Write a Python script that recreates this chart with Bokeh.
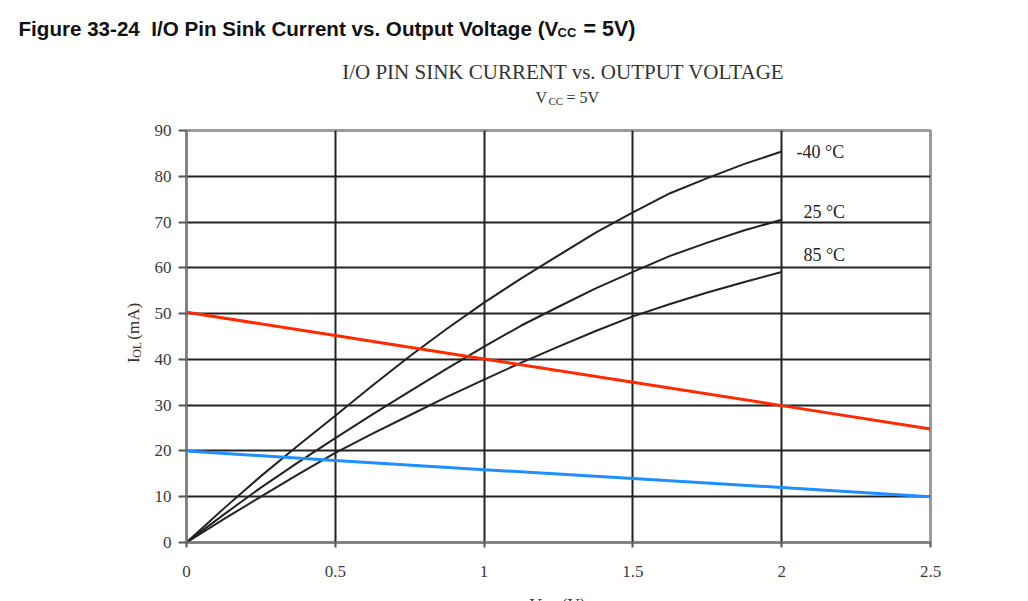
import math
from bokeh.plotting import figure
from bokeh.layouts import column, row
from bokeh.models import Range1d, FixedTicker, Label
from bokeh.embed import file_html
from bokeh.resources import INLINE

# ---------------- data ----------------
vol = [0.0, 0.125, 0.25, 0.375, 0.5, 0.625, 0.75, 0.875, 1.0,
       1.125, 1.25, 1.375, 1.5, 1.625, 1.75, 1.875, 2.0]
i_m40 = [0.0, 7.4, 14.5, 21.2, 27.7, 34.3, 40.7, 46.7, 52.4,
         57.7, 62.7, 67.7, 72.1, 76.3, 79.6, 82.7, 85.4]
i_25 = [0.0, 6.1, 12.0, 17.5, 22.8, 28.0, 33.0, 38.0, 42.8,
        47.4, 51.5, 55.5, 59.1, 62.6, 65.5, 68.2, 70.5]
i_85 = [0.0, 5.1, 10.0, 14.9, 19.6, 23.8, 27.8, 31.8, 35.6,
        39.3, 42.8, 46.2, 49.4, 52.1, 54.6, 56.9, 59.1]

red_v = [0.0, 0.5, 1.0, 1.5, 2.0, 2.5]
red_i = [50.3, 45.2, 40.1, 35.0, 29.9, 24.8]
blue_v = [0.0, 0.5, 1.0, 1.5, 2.0, 2.5]
blue_i = [20.0, 17.9, 15.9, 14.0, 12.0, 10.0]

temp_labels = ["-40 °C", "25 °C", "85 °C"]
temp_label_x = [2.05, 2.073, 2.073]
temp_label_y = [85.2, 72.3, 62.7]

x_ticks = [0, 0.5, 1, 1.5, 2, 2.5]
y_ticks = [0, 10, 20, 30, 40, 50, 60, 70, 80, 90]
x_grid = [0.5, 1, 1.5, 2]
y_grid = [10, 20, 30, 40, 50, 60, 70, 80]

SERIF = "Liberation Serif"
SANS = "Liberation Sans"
NB = "\u00a0"

W, H = 1028, 601
HEAD_H = 112      # caption + chart title strip
FOOT_H = 16       # strip holding the (cut-off) x-axis label
LEFT_W = 150      # strip holding the rotated y-axis label
MAIN_H = H - HEAD_H - FOOT_H
F_LEFT, F_RIGHT, F_TOP, F_BOTTOM = 186, 930, 130, 542


def text_strip(width, height, x0, y0):
    """a bare figure whose frame fills its canvas; data units = page pixels"""
    f = figure(width=width, height=height, output_backend="svg", toolbar_location=None,
               x_range=Range1d(x0, x0 + width), y_range=Range1d(y0 + height, y0),
               x_axis_location=None, y_axis_location=None, min_border=0)
    f.outline_line_color = None
    f.background_fill_color = "white"
    f.border_fill_color = "white"
    f.xgrid.visible = False
    f.ygrid.visible = False
    return f


def put(f, x, y, text, font, size, color="#111111", bold=False, angle=0.0,
        align="left", baseline="alphabetic"):
    f.add_layout(Label(x=x, y=y, text=text, text_font=font, text_font_size=size,
                       text_color=color, text_font_style="bold" if bold else "normal",
                       angle=angle, text_align=align, text_baseline=baseline))


# ---------------- header ----------------
head = text_strip(W, HEAD_H, 0, 0)
put(head, 18, 28, "Figure 33-24" + NB + " I/O Pin Sink Current vs. Output Voltage (V", SANS, "20.6px", bold=True)
put(head, 557, 32, "CC", SANS, "13px", bold=True)
put(head, 583, 28, "= 5V)", SANS, "21.5px", bold=True)
put(head, 563, 71, "I/O PIN SINK CURRENT vs. OUTPUT VOLTAGE", SERIF, "21px", color="#333333", align="center")
put(head, 535, 97, "V", SERIF, "16px", color="#333333")
put(head, 548, 100, "CC", SERIF, "11px", color="#333333")
put(head, 566, 97, "= 5V", SERIF, "16px", color="#333333")

# ---------------- y label strip ----------------
ylab = text_strip(LEFT_W, MAIN_H, 0, HEAD_H)
a = math.pi / 2
put(ylab, 133, 379, "I", SERIF, "17px", color="#333333", angle=a)
put(ylab, 136, 373, "OL", SERIF, "12px", color="#333333", angle=a)
put(ylab, 133, 357, NB + "(mA)", SERIF, "17px", color="#333333", angle=a)

# ---------------- main chart ----------------
p = figure(width=W - LEFT_W, height=MAIN_H, output_backend="svg", toolbar_location=None,
           x_range=Range1d(0, 2.5), y_range=Range1d(0, 90),
           min_border_left=F_LEFT - LEFT_W, min_border_right=W - F_RIGHT,
           min_border_top=F_TOP - HEAD_H, min_border_bottom=H - FOOT_H - F_BOTTOM)
p.background_fill_color = "white"
p.border_fill_color = "white"
p.outline_line_color = "#9a9a9a"
p.outline_line_width = 3

p.xgrid.ticker = FixedTicker(ticks=x_grid)
p.ygrid.ticker = FixedTicker(ticks=y_grid)
for g in (p.xgrid, p.ygrid):
    g.grid_line_color = "#222222"
    g.grid_line_width = 2

p.xaxis.ticker = FixedTicker(ticks=x_ticks)
p.yaxis.ticker = FixedTicker(ticks=y_ticks)
p.xaxis.major_label_overrides = {0: "0", 0.5: "0.5", 1: "1", 1.5: "1.5", 2: "2", 2.5: "2.5"}
for ax in (p.xaxis, p.yaxis):
    ax.axis_line_color = "#7a7a7a"
    ax.axis_line_width = 2
    ax.major_tick_line_color = "#555555"
    ax.major_tick_line_width = 2
    ax.major_tick_in = 0
    ax.minor_tick_line_color = None
    ax.major_label_text_font = SERIF
    ax.major_label_text_font_size = "17px"
    ax.major_label_text_color = "#3a3a3a"
p.yaxis.major_tick_out = 8
p.yaxis.major_label_standoff = 7
p.xaxis.major_tick_out = 5
p.xaxis.major_label_standoff = 18

for ys in (i_m40, i_25, i_85):
    p.line(vol, ys, line_color="#222222", line_width=2, line_join="round")
p.line(red_v, red_i, line_color="#ff2a00", line_width=3)
p.line(blue_v, blue_i, line_color="#1e8fff", line_width=3)

for t, lx, ly in zip(temp_labels, temp_label_x, temp_label_y):
    p.add_layout(Label(x=lx, y=ly, text=t, text_font=SERIF, text_font_size="18px",
                       text_color="#222222", text_baseline="middle", text_align="left"))

# ---------------- footer (x label, cut off by the page edge as in the reference) ----------------
foot = text_strip(W, FOOT_H, 0, H - FOOT_H)
put(foot, 529, 594, "V", SERIF, "17px", color="#333333", baseline="top")
put(foot, 541, 599, "OL", SERIF, "12px", color="#333333", baseline="top")
put(foot, 557, 594, NB + "(V)", SERIF, "17px", color="#333333", baseline="top")

layout = column(head, row(ylab, p), foot)
open("out.html", "w").write(file_html(layout, INLINE))
